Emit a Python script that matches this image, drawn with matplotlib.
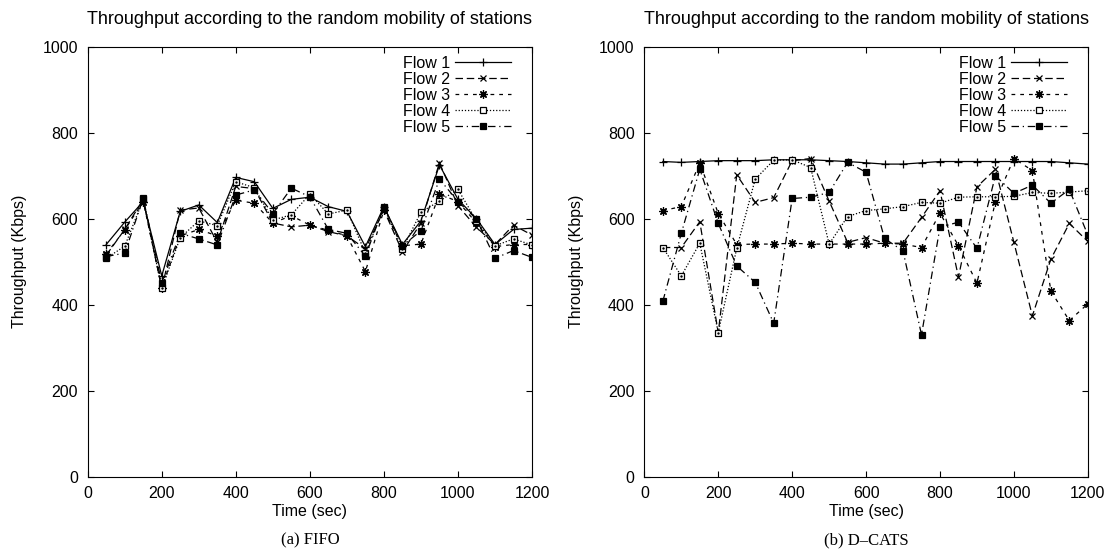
import matplotlib
matplotlib.use('Agg')
import matplotlib.pyplot as plt
import numpy as np

plt.rcParams['font.family'] = ['Liberation Sans', 'DejaVu Sans']

time = np.arange(50, 1201, 50)

# FIFO
fifo_flow1 = [540, 592, 640, 467, 617, 632, 591, 696, 686, 624, 645, 650,
              628, 617, 535, 628, 540, 595, 725, 645, 600, 540, 575, 578]
fifo_flow2 = [515, 575, 645, 438, 620, 625, 545, 675, 670, 590, 581, 585,
              570, 560, 530, 620, 523, 590, 730, 630, 580, 540, 585, 562]
fifo_flow3 = [518, 574, 640, 440, 560, 575, 560, 643, 636, 590, 607, 585,
              573, 560, 477, 620, 537, 541, 657, 640, 590, 535, 540, 540]
fifo_flow4 = [508, 536, 645, 438, 556, 595, 584, 686, 672, 597, 609, 657,
              611, 620, 520, 625, 530, 615, 641, 668, 595, 537, 553, 539]
fifo_flow5 = [512, 520, 647, 451, 566, 553, 539, 655, 667, 612, 671, 651,
              575, 566, 513, 628, 537, 572, 692, 640, 599, 508, 526, 510]

# D-CATS
dcats_flow1 = [733, 731, 733, 735, 735, 735, 737, 737, 737, 735, 733, 730,
               727, 727, 730, 733, 733, 733, 733, 733, 733, 733, 730, 727]
dcats_flow2 = [533, 533, 593, 335, 702, 638, 649, 735, 740, 641, 545, 556,
               543, 543, 603, 665, 464, 674, 715, 545, 374, 506, 589, 547]
dcats_flow3 = [619, 628, 730, 612, 540, 541, 541, 543, 541, 541, 541, 541,
               543, 541, 533, 613, 537, 450, 640, 740, 712, 432, 363, 402]
dcats_flow4 = [533, 467, 543, 335, 531, 692, 736, 737, 719, 541, 605, 619,
               623, 628, 638, 636, 650, 651, 651, 652, 661, 659, 662, 665]
dcats_flow5 = [408, 566, 715, 589, 490, 452, 357, 647, 650, 661, 731, 708,
               554, 525, 330, 580, 592, 531, 700, 659, 678, 636, 668, 562]

labels = ['Flow 1', 'Flow 2', 'Flow 3', 'Flow 4', 'Flow 5']
styles = [
    dict(linestyle='-', marker='+', mfc='none', ms=6),
    dict(linestyle=(0, (6, 3)), marker='x', mfc='none', ms=5),
    dict(linestyle=(0, (3, 4)), marker=(8, 2, 0), mfc='none', ms=6),
    dict(linestyle=(0, (1, 1.5)), marker='s', mfc='white', ms=5),
    dict(linestyle=(0, (6, 3, 1, 3)), marker='s', mfc='black', ms=5),
]


def draw_panel(ax, flows, caption):
    for vals, lab, st in zip(flows, labels, styles):
        ax.plot(time, vals, color='black', lw=0.9, mec='black', mew=0.9,
                label=lab, **st)
    # gnuplot square with a centre dot
    ax.plot(time, flows[3], linestyle='none', marker='.', ms=1.5, color='black')
    ax.set_xlim(0, 1200)
    ax.set_ylim(0, 1000)
    ax.set_xticks(range(0, 1201, 200))
    ax.set_yticks(range(0, 1001, 200))
    ax.tick_params(direction='in', top=True, right=True, length=4,
                   labelsize=11.5, pad=7)
    ax.set_xlabel('Time (sec)', fontsize=11.5, labelpad=2)
    ax.set_ylabel('Throughput (Kbps)', fontsize=11.5, labelpad=11)
    ax.set_title('Throughput according to the random mobility of stations',
                 fontsize=13, pad=16)
    ax.legend(loc='upper right', bbox_to_anchor=(0.952, 0.979),
              frameon=False, markerfirst=False,
              fontsize=11.5, handlelength=3.5, labelspacing=0.06,
              handletextpad=0.3, borderaxespad=0, borderpad=0)
    ax.text(0.5, -0.149, caption, transform=ax.transAxes, ha='center',
            va='center', fontsize=12, family='Liberation Serif')


fig = plt.figure(figsize=(11.1, 5.58), dpi=100)
ax1 = fig.add_axes([0.079, 0.1457, 0.4003, 0.7706])
ax2 = fig.add_axes([0.5805, 0.1457, 0.3995, 0.7706])

draw_panel(ax1, [fifo_flow1, fifo_flow2, fifo_flow3, fifo_flow4, fifo_flow5],
           '(a) FIFO')
draw_panel(ax2, [dcats_flow1, dcats_flow2, dcats_flow3, dcats_flow4, dcats_flow5],
           '(b) D\u2013CATS')

fig.savefig('out.png', dpi=100)
